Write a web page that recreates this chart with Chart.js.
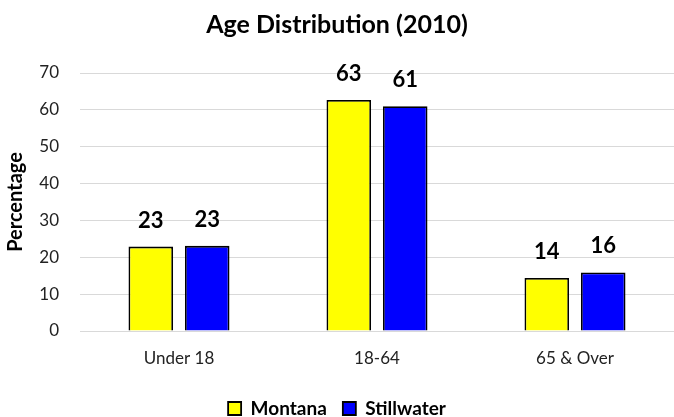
<!DOCTYPE html>
<html>
<head>
<meta charset="utf-8">
<script src="https://cdn.jsdelivr.net/npm/chart.js@4"></script>
<style>
    html, body { margin: 0; padding: 0; background: #fff; }
    #wrap { width: 674px; height: 417px; }
</style>
</head>
<body>
<div id="wrap"><canvas id="chartCanvas" width="674" height="417"></canvas></div>
<script>
// Age distribution, percent of population
const categories = ['Under 18', '18-64', '65 & Over'];
const montana = [22.9, 62.7, 14.4];
const stillwater = [23.1, 61.0, 15.9];
const yTicks = [0, 10, 20, 30, 40, 50, 60, 70];

const FONT = 'Lato, "Open Sans", sans-serif';

// draws the rounded value above every bar
const barValues = {
    id: 'barValues',
    afterDatasetsDraw(chart) {
        const ctx = chart.ctx;
        ctx.save();
        ctx.font = 'bold 22px ' + FONT;
        ctx.fillStyle = '#000';
        ctx.textAlign = 'center';
        ctx.textBaseline = 'alphabetic';
        chart.data.datasets.forEach((ds, i) => {
            chart.getDatasetMeta(i).data.forEach((bar, j) => {
                ctx.fillText(Math.round(ds.data[j]), bar.x, bar.y - 19);
            });
        });
        ctx.restore();
    }
};

new Chart(document.getElementById('chartCanvas'), {
    type: 'bar',
    data: {
        labels: categories,
        datasets: [{
            label: 'Montana',
            data: montana,
            backgroundColor: '#ffff00',
            borderColor: '#000',
            borderWidth: 1.8,
        }, {
            label: 'Stillwater',
            data: stillwater,
            backgroundColor: '#0000ff',
            borderColor: '#000',
            borderWidth: 1.8,
        }],
    },
    options: {
        responsive: false,
        animation: false,
        categoryPercentage: 0.57,
        barPercentage: 0.79,
        layout: { padding: { top: 8, right: 0, left: 0, bottom: -11 } },
        plugins: {
            title: {
                display: true,
                text: 'Age Distribution (2010)',
                color: '#000',
                font: { family: FONT, size: 25, weight: 'bold' },
                padding: { top: 2, bottom: 33 },
            },
            legend: {
                position: 'bottom',
                labels: {
                    color: '#000',
                    font: { family: FONT, size: 19, weight: 'bold' },
                    boxWidth: 13,
                    boxHeight: 13,
                    padding: 16,
                },
            },
            tooltip: { enabled: false },
        },
        scales: {
            x: {
                grid: { display: false },
                border: { color: '#d9d9d9' },
                ticks: {
                    color: '#222',
                    font: { family: FONT, size: 17 },
                    padding: 9,
                },
                afterFit(axis) {
                    axis.height = 52;
                },
            },
            y: {
                min: 0,
                max: 70,
                afterBuildTicks(axis) {
                    axis.ticks = yTicks.map(v => ({ value: v }));
                },
                afterFit(axis) {
                    axis.width = 80;
                },
                grid: { color: '#d9d9d9', drawTicks: false },
                border: { display: false },
                ticks: {
                    color: '#222',
                    font: { family: FONT, size: 17 },
                    padding: 21,
                },
                title: {
                    display: true,
                    text: 'Percentage',
                    color: '#000',
                    font: { family: FONT, size: 20, weight: 'bold' },
                    padding: { top: 4, bottom: 2 },
                },
            },
        },
    },
    plugins: [barValues],
});
</script>
</body>
</html>
